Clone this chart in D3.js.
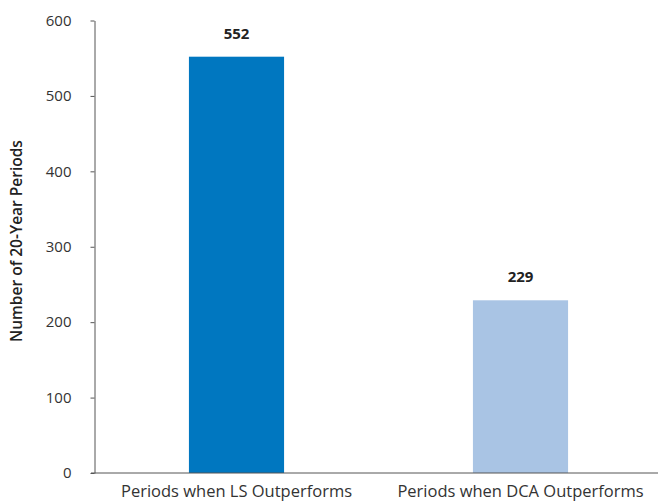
<!DOCTYPE html>
<html><head><meta charset="utf-8">
<script src="https://cdn.jsdelivr.net/npm/d3@7"></script>
<style>body{margin:0;background:#fff}svg{display:block}</style>
</head><body>
<svg id="c" width="661" height="502"></svg>
<script>
const categories = ["Periods when LS Outperforms", "Periods when DCA Outperforms"];
const values = [552, 229];
const colors = ["#0077c0", "#a9c4e4"];
const yTicks = [0, 100, 200, 300, 400, 500, 600];
const yTitle = "Number of 20-Year Periods";

const svg = d3.select("#c");
const font = "'Open Sans', 'Noto Sans', sans-serif";
const x = d3.scaleBand().domain(categories).range([94.5, 662.5]).paddingInner(0.665).paddingOuter(0.3325);
const y = d3.scaleLinear().domain([0, 600]).range([473, 20.5]);

// bars
svg.selectAll("rect.bar").data(values).join("rect")
  .attr("x", (d, i) => x(categories[i]))
  .attr("width", x.bandwidth())
  .attr("y", d => y(d))
  .attr("height", d => y(0) - y(d))
  .attr("fill", (d, i) => colors[i]);

// value labels
svg.selectAll("text.val").data(values).join("text")
  .attr("x", (d, i) => x(categories[i]) + x.bandwidth() / 2)
  .attr("y", d => y(d) - 18)
  .attr("text-anchor", "middle")
  .attr("font-family", font).attr("font-weight", "bold").attr("font-size", 15)
  .attr("fill", "#222").text(d => d);

// y axis
const yAxis = svg.append("g").attr("transform", "translate(94.5,0)")
  .call(d3.axisLeft(y).tickValues(yTicks).tickSize(4).tickSizeOuter(0).tickPadding(19));
yAxis.select(".domain").attr("stroke", "#555");
yAxis.selectAll(".tick line").attr("stroke", "#555");
yAxis.selectAll(".tick text").attr("font-family", font).attr("font-size", 15).attr("fill", "#333");

// x baseline
const xAxis = svg.append("g").attr("transform", `translate(0,${y(0)})`)
  .call(d3.axisBottom(x).tickSize(0).tickPadding(12));
xAxis.select(".domain").attr("stroke", "#555").attr("d", "M91,0H658");
xAxis.selectAll(".tick text").attr("font-family", font).attr("font-size", 16.5).attr("fill", "#333");

// y title
svg.append("text")
  .attr("transform", "translate(22,241) rotate(-90)")
  .attr("text-anchor", "middle")
  .attr("font-family", font).attr("font-weight", 600).attr("font-size", 15.5)
  .attr("fill", "#222").text(yTitle);
</script>
</body></html>
